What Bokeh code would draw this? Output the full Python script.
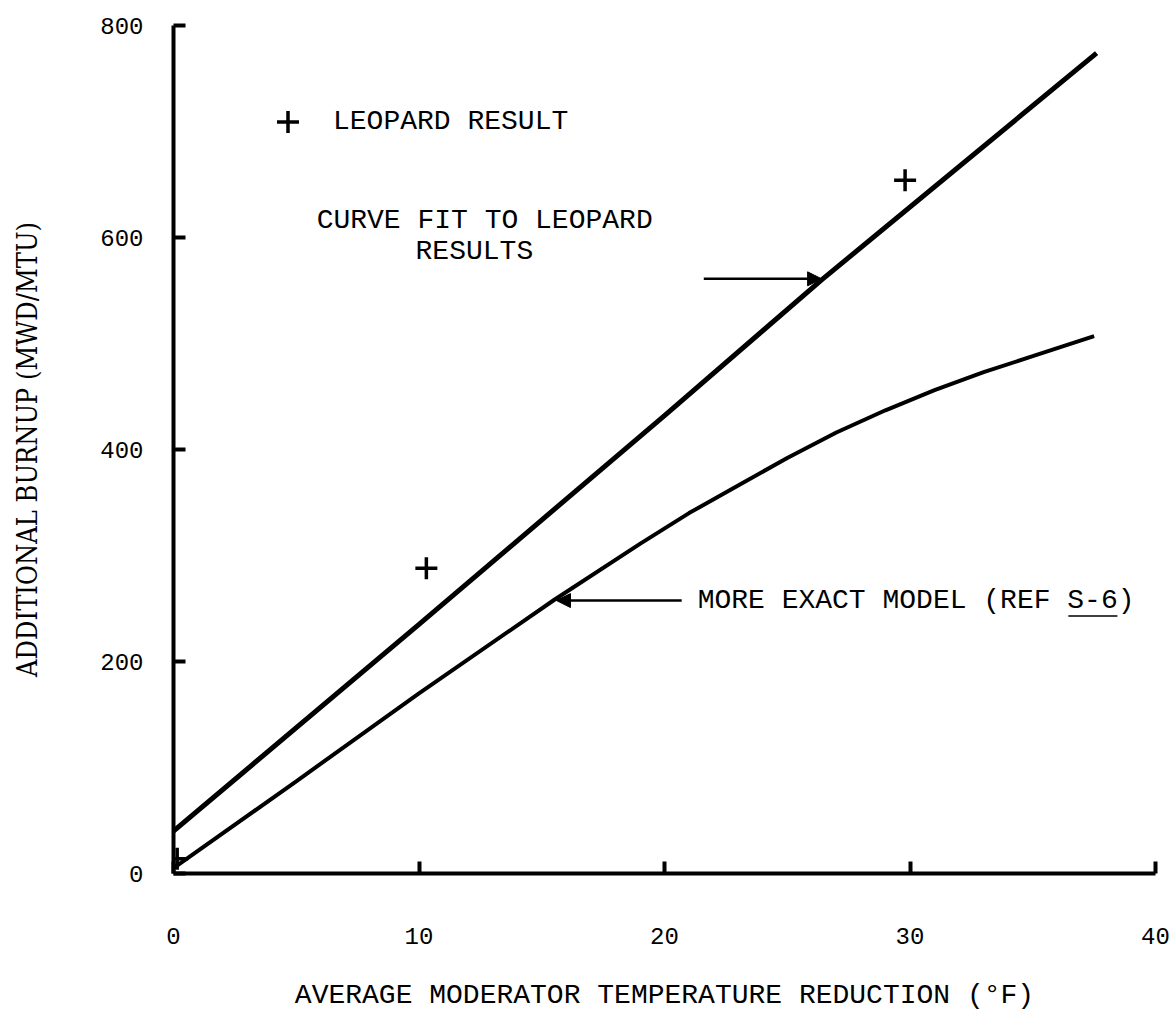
from bokeh.plotting import figure
from bokeh.models import (Range1d, FixedTicker, Label, Arrow, NormalHead, Legend, LegendItem)
from bokeh.embed import file_html
from bokeh.resources import INLINE

# ---- data ----
fit_x = [0, 10, 20, 26.4, 37.6]
fit_y = [40, 235, 432, 560, 774]

exact_x = [0, 5, 10, 15.5, 19, 21, 23, 25, 27, 29, 31, 33, 35, 37.5]
exact_y = [5, 87, 170, 258, 311, 340, 366, 392, 416, 437, 456, 473, 488, 507]

leopard_x = [0.15, 10.3, 29.8]
leopard_y = [14, 288, 654]

x_ticks = [0, 10, 20, 30, 40]
y_ticks = [0, 200, 400, 600, 800]

MONO = "Liberation Mono"

p = figure(width=1173, height=1022, x_range=Range1d(0, 40), y_range=Range1d(0, 800),
           output_backend="svg", toolbar_location=None,
           min_border_left=173, min_border_right=18, min_border_top=25, min_border_bottom=149)
p.outline_line_color = None
p.grid.visible = False
p.background_fill_color = "white"

# x axis
xa = p.xaxis[0]
xa.ticker = FixedTicker(ticks=x_ticks)
xa.major_tick_in = 12
xa.major_tick_out = 0
xa.minor_tick_line_color = None
xa.axis_line_width = 4
xa.major_tick_line_width = 4
xa.major_label_standoff = 54
xa.major_label_text_font = MONO
xa.major_label_text_font_size = "24px"
xa.major_label_text_color = "black"
xa.axis_label = "AVERAGE MODERATOR TEMPERATURE REDUCTION (°F)"
xa.axis_label_text_font = MONO
xa.axis_label_text_font_size = "28px"
xa.axis_label_text_font_style = "normal"
xa.axis_label_text_color = "black"
xa.axis_label_standoff = 33

# y axis
ya = p.yaxis[0]
ya.ticker = FixedTicker(ticks=y_ticks)
ya.major_tick_in = 12
ya.major_tick_out = 0
ya.minor_tick_line_color = None
ya.axis_line_width = 4
ya.major_tick_line_width = 4
ya.major_label_standoff = 30
ya.major_label_text_font = MONO
ya.major_label_text_font_size = "24px"
ya.major_label_text_color = "black"
ya.axis_label = "ADDITIONAL BURNUP (MWD/MTU)"
ya.axis_label_text_font = "DejaVu Serif Condensed"
ya.axis_label_text_font_size = "27px"
ya.axis_label_text_font_style = "normal"
ya.axis_label_text_color = "black"
ya.axis_label_standoff = 54

# curves
p.line(fit_x, fit_y, line_color="black", line_width=5)
p.line(exact_x, exact_y, line_color="black", line_width=4)
pts = p.scatter(leopard_x, leopard_y, marker="cross", size=22, line_width=3.5,
                line_color="black")

# legend
legend = Legend(items=[LegendItem(label="LEOPARD RESULT", renderers=[pts])],
                location=(87, 724), orientation="vertical",
                border_line_color=None, background_fill_alpha=0,
                padding=0, margin=0, label_standoff=18,
                glyph_width=55, glyph_height=55,
                label_text_font=MONO, label_text_font_size="28px",
                label_text_color="black")
p.add_layout(legend, "center")

# annotations
def lab(x, y, t):
    p.add_layout(Label(x=x, y=y, text=t, text_font=MONO, text_font_size="28px",
                       text_baseline="middle", text_align="left", text_color="black"))

lab(5.83, 616, "CURVE FIT TO LEOPARD")
lab(9.86, 587, "RESULTS")
lab(21.35, 257.5, "MORE EXACT MODEL (REF S-6)")

# underline under S-6
p.line([36.45, 38.45], [243, 243], line_color="black", line_width=1.5)

head = dict(size=14, fill_color="black", line_color="black", line_width=1)
p.add_layout(Arrow(end=NormalHead(**head), x_start=21.6, y_start=561, x_end=26.4, y_end=561,
                   line_width=2.5, line_color="black"))
p.add_layout(Arrow(end=NormalHead(**head), x_start=20.7, y_start=257.5, x_end=15.6, y_end=257.5,
                   line_width=2.5, line_color="black"))

open("out.html", "w").write(file_html(p, INLINE))
